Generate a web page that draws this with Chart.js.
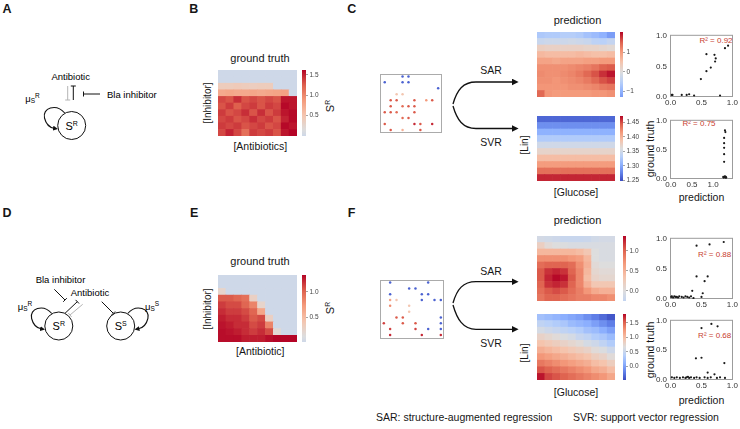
<!DOCTYPE html>
<html>
<head>
<meta charset="utf-8">
<title>SAR vs SVR</title>
<script src="https://cdn.jsdelivr.net/npm/chart.js@4.4.1/dist/chart.umd.min.js"></script>
<style>
  body { margin: 0; background: #fff; }
  #fig { position: relative; width: 740px; height: 429px; overflow: hidden;
         font-family: "Liberation Sans", Arial, Helvetica, sans-serif; color: #161616; }
  #fig canvas { position: absolute; }
  #fig svg { position: absolute; left: 0; top: 0; font-family: "Liberation Sans", Arial, sans-serif; }
  .lbl { position: absolute; white-space: nowrap; line-height: 1; transform: translate(-50%, -50%); }
  .rot { transform: translate(-50%, -50%) rotate(-90deg); }
  .left { transform: translate(0, -50%); }
  .panel { font-weight: bold; font-size: 12.5px; }
  .r2 { color: #c8402f; font-size: 8px; }
  sup { font-size: 0.62em; vertical-align: 0.55em; line-height: 0; }
</style>
</head>
<body>
<div id="fig">
  <svg width="740" height="429" viewBox="0 0 740 429">
    <defs>
      <marker id="tip" viewBox="0 0 10 10" refX="2" refY="5" markerWidth="5" markerHeight="5" markerUnits="userSpaceOnUse" orient="auto">
        <path d="M0,0 L10,5 L0,10 z" fill="#111"/>
      </marker>
      <marker id="tipBig" viewBox="0 0 10 10" refX="2" refY="5" markerWidth="7" markerHeight="7" markerUnits="userSpaceOnUse" orient="auto">
        <path d="M0,0 L10,5 L0,10 z" fill="#111"/>
      </marker>
    </defs>
    <!-- Panel A -->
    <text x="70.7" y="76.7" font-size="9.5" text-anchor="middle" dominant-baseline="central">Antibiotic</text>
    <line x1="67.7" y1="86" x2="67.7" y2="100" stroke="#b4b4b4" stroke-width="1"/>
    <line x1="65.2" y1="100" x2="70.2" y2="100" stroke="#b4b4b4" stroke-width="1"/>
    <line x1="73.3" y1="100" x2="73.3" y2="86" stroke="#111" stroke-width="1"/>
    <line x1="70.8" y1="86" x2="75.8" y2="86" stroke="#111" stroke-width="1"/>
    <line x1="83.5" y1="94" x2="100" y2="94" stroke="#111" stroke-width="1"/>
    <line x1="83.5" y1="91.5" x2="83.5" y2="96.5" stroke="#111" stroke-width="1"/>
    <text x="107" y="94" font-size="9.5" dominant-baseline="central">Bla inhibitor</text>
    <circle cx="71.7" cy="125.5" r="14" fill="none" stroke="#111" stroke-width="1"/>
    <text x="71.7" y="129.5" text-anchor="middle"><tspan font-size="11">S</tspan><tspan font-size="7" dy="-4">R</tspan></text>
    <path d="M64.7,113 C56,103 42,108 44.5,118 C46,124 50,127.5 54,128.3" fill="none" stroke="#111" stroke-width="1.1" marker-end="url(#tip)"/>
    <text x="32.5" y="102" text-anchor="middle"><tspan font-size="9.5">μ</tspan><tspan font-size="6.5" dy="1">S</tspan><tspan font-size="6.5" dy="-5">R</tspan></text>

    <!-- Panel D -->
    <text x="60.5" y="279" font-size="9.5" text-anchor="middle" dominant-baseline="central">Bla inhibitor</text>
    <line x1="54.3" y1="289.3" x2="65" y2="300" stroke="#111" stroke-width="1"/>
    <line x1="66.8" y1="298.2" x2="63.2" y2="301.8" stroke="#111" stroke-width="1"/>
    <text x="90" y="292.7" font-size="9.5" text-anchor="middle" dominant-baseline="central">Antibiotic</text>
    <line x1="65" y1="313.3" x2="77.3" y2="301.7" stroke="#111" stroke-width="1"/>
    <line x1="75.6" y1="299.9" x2="79" y2="303.5" stroke="#111" stroke-width="1"/>
    <line x1="82.7" y1="304.3" x2="70" y2="315" stroke="#b4b4b4" stroke-width="1"/>
    <line x1="68.4" y1="313.1" x2="71.6" y2="316.9" stroke="#b4b4b4" stroke-width="1"/>
    <line x1="101.7" y1="301.7" x2="113.3" y2="313.3" stroke="#111" stroke-width="1"/>
    <line x1="115.1" y1="311.5" x2="111.5" y2="315.1" stroke="#111" stroke-width="1"/>
    <circle cx="58.8" cy="326" r="14" fill="none" stroke="#111" stroke-width="1"/>
    <text x="58.8" y="330" text-anchor="middle"><tspan font-size="11">S</tspan><tspan font-size="7" dy="-4">R</tspan></text>
    <circle cx="120.7" cy="326" r="14" fill="none" stroke="#111" stroke-width="1"/>
    <text x="120.7" y="330" text-anchor="middle"><tspan font-size="11">S</tspan><tspan font-size="7" dy="-4">S</tspan></text>
    <path d="M51.8,313.5 C43.1,303.5 29.1,308.5 31.6,318.5 C33.1,324.5 37.1,328 41.1,328.8" fill="none" stroke="#111" stroke-width="1.1" marker-end="url(#tip)"/>
    <path d="M127.7,313.5 C136.4,303.5 150.4,308.5 147.9,318.5 C146.4,324.5 142.4,328 138.4,328.8" fill="none" stroke="#111" stroke-width="1.1" marker-end="url(#tip)"/>
    <text x="25" y="310" text-anchor="middle"><tspan font-size="9.5">μ</tspan><tspan font-size="6.5" dy="1">S</tspan><tspan font-size="6.5" dy="-5">R</tspan></text>
    <text x="152" y="310" text-anchor="middle"><tspan font-size="9.5">μ</tspan><tspan font-size="6.5" dy="1">S</tspan><tspan font-size="6.5" dy="-5">S</tspan></text>

    <!-- Flechas SAR / SVR -->
    <path d="M453,104 C457,90 463,82 476,82 L513,82" fill="none" stroke="#111" stroke-width="1.3" marker-end="url(#tipBig)"/>
    <path d="M453,106 C457,120 463,128.5 476,128.5 L513,128.5" fill="none" stroke="#111" stroke-width="1.3" marker-end="url(#tipBig)"/>
    <path d="M453,303 C457,289 463,281.7 476,281.7 L513,281.7" fill="none" stroke="#111" stroke-width="1.3" marker-end="url(#tipBig)"/>
    <path d="M453,305 C457,319 463,329.3 476,329.3 L513,329.3" fill="none" stroke="#111" stroke-width="1.3" marker-end="url(#tipBig)"/>
  </svg>

  <div class="lbl panel" style="left:7px;top:8.5px">A</div>
  <div class="lbl panel" style="left:193.8px;top:8.5px">B</div>
  <div class="lbl panel" style="left:351.7px;top:8.5px">C</div>
  <div class="lbl panel" style="left:7px;top:213px">D</div>
  <div class="lbl panel" style="left:194.2px;top:213px">E</div>
  <div class="lbl panel" style="left:351.7px;top:213px">F</div>

  <div class="lbl" style="left:260px;top:57.5px;font-size:11px">ground truth</div>
  <div class="lbl rot" style="left:208.3px;top:103px;font-size:10px">[Inhibitor]</div>
  <div class="lbl" style="left:260.3px;top:145.7px;font-size:10.5px">[Antibiotics]</div>
  <div class="lbl rot" style="left:329.5px;top:106px;font-size:11px">S<sup>R</sup></div>

  <div class="lbl" style="left:260px;top:261px;font-size:11px">ground truth</div>
  <div class="lbl rot" style="left:208.3px;top:309px;font-size:10px">[Inhibitor]</div>
  <div class="lbl" style="left:260.3px;top:350.7px;font-size:10.5px">[Antibiotic]</div>
  <div class="lbl rot" style="left:329.5px;top:308px;font-size:11px">S<sup>R</sup></div>

  <div class="lbl" style="left:577.5px;top:19.5px;font-size:11px">prediction</div>
  <div class="lbl" style="left:491px;top:70px;font-size:10.5px">SAR</div>
  <div class="lbl" style="left:491px;top:141.7px;font-size:10.5px">SVR</div>
  <div class="lbl rot" style="left:525px;top:145px;font-size:10px">[Lin]</div>
  <div class="lbl" style="left:576px;top:191.7px;font-size:10.5px">[Glucose]</div>
  <div class="lbl rot" style="left:650px;top:149px;font-size:10.5px">ground truth</div>
  <div class="lbl" style="left:701.5px;top:197px;font-size:10.5px">prediction</div>
  <div class="lbl r2" style="left:716px;top:40.7px">R² = 0.92</div>
  <div class="lbl r2" style="left:699px;top:124px">R² = 0.75</div>

  <div class="lbl" style="left:577.5px;top:220px;font-size:11px">prediction</div>
  <div class="lbl" style="left:491px;top:271px;font-size:10.5px">SAR</div>
  <div class="lbl" style="left:491px;top:342.7px;font-size:10.5px">SVR</div>
  <div class="lbl rot" style="left:525px;top:353px;font-size:10px">[Lin]</div>
  <div class="lbl" style="left:576px;top:392px;font-size:10.5px">[Glucose]</div>
  <div class="lbl rot" style="left:650px;top:350px;font-size:10.5px">ground truth</div>
  <div class="lbl" style="left:701.5px;top:400px;font-size:10.5px">prediction</div>
  <div class="lbl r2" style="left:714.7px;top:255px">R² = 0.88</div>
  <div class="lbl r2" style="left:714.7px;top:336px">R² = 0.68</div>

  <div class="lbl left" style="left:376px;top:416.7px;font-size:10.5px">SAR: structure-augmented regression</div>
  <div class="lbl left" style="left:573px;top:416.7px;font-size:10.5px">SVR: support vector regression</div>
</div>

<script>
// Índices de concentración (rejilla 10 x 10)
const concIdx = [0, 1, 2, 3, 4, 5, 6, 7, 8, 9];

// Panel B: ground truth S^R (fila 0 = arriba)
const truthB = [
  [0, 0, 0, 0, 0, 0, 0, 0, 0, 0],
  [0, 0, 0, 0, 0, 0, 0, 0, 0, 0],
  [0.4, 0.4, 0.42, 0.4, 0.38, 0.4, 0.4, 0, 0, 0],
  [0.75, 0.78, 0.75, 0.75, 0.78, 0.75, 0.78, 0.8, 0.82, 0],
  [1.35, 1.3, 1.45, 1.3, 1.35, 1.3, 1.35, 1.3, 1.55, 1.55],
  [1.3, 1.4, 1.25, 1.35, 1.4, 1.3, 1.4, 1.35, 1.6, 1.55],
  [1.4, 1.3, 1.35, 1.45, 1.3, 1.45, 1.3, 1.4, 1.55, 1.6],
  [1.35, 1.4, 1.3, 1.35, 1.45, 1.35, 1.4, 1.3, 1.5, 1.6],
  [1.4, 1.35, 1.4, 1.3, 1.35, 1.4, 1.3, 1.35, 1.6, 1.55],
  [1.35, 1.5, 1.35, 1.15, 1.4, 1.35, 1.4, 1.3, 1.55, 1.62]
];

// Panel E: ground truth S^R
const truthE = [
  [0, 0, 0, 0, 0, 0, 0, 0, 0, 0],
  [0, 0, 0, 0, 0, 0, 0, 0, 0, 0],
  [0.25, 0, 0, 0, 0, 0, 0, 0, 0, 0],
  [1.05, 1.05, 1.0, 0.95, 0.3, 0, 0, 0, 0, 0],
  [1.15, 1.1, 1.1, 1.0, 0.85, 0.25, 0, 0, 0, 0],
  [1.2, 1.15, 1.15, 1.1, 1.0, 0.65, 0, 0, 0, 0],
  [1.25, 1.2, 1.2, 1.15, 1.05, 1.1, 0.3, 0, 0, 0],
  [1.28, 1.25, 1.2, 1.2, 1.1, 1.15, 0.85, 0, 0, 0],
  [1.3, 1.28, 1.25, 1.2, 1.15, 1.2, 1.1, 0.2, 0, 0],
  [1.3, 1.3, 1.3, 1.25, 1.25, 1.25, 1.3, 1.33, 1.33, 1.33]
];

// Panel C: predicciones
const sarC = [
  [-0.65, -0.6, -0.6, -0.55, -0.55, -0.6, -0.75, -0.85, -1.0, -1.25],
  [-0.3, -0.25, -0.25, -0.25, -0.2, -0.25, -0.3, -0.45, -0.5, -0.35],
  [0.3, 0.25, 0.25, 0.25, 0.25, 0.25, 0.2, 0.2, 0.15, 0.1],
  [0.65, 0.6, 0.6, 0.6, 0.6, 0.65, 0.6, 0.55, 0.55, 0.6],
  [0.9, 0.9, 0.85, 0.9, 0.9, 0.9, 0.95, 0.95, 1.0, 1.0],
  [1.1, 1.1, 1.1, 1.1, 1.15, 1.2, 1.25, 1.35, 1.5, 1.55],
  [1.15, 1.1, 1.1, 1.15, 1.2, 1.3, 1.45, 1.6, 1.8, 1.95],
  [1.1, 1.1, 1.05, 1.1, 1.15, 1.2, 1.3, 1.45, 1.6, 1.7],
  [1.05, 1.05, 1.05, 1.05, 1.1, 1.1, 1.15, 1.2, 1.3, 1.35],
  [1.45, 1.05, 1.0, 1.0, 1.0, 1.0, 1.0, 1.05, 1.05, 1.1]
];
const svrC = [
  [1.261, 1.261, 1.261, 1.261, 1.261, 1.261, 1.261, 1.261, 1.261, 1.261],
  [1.283, 1.283, 1.283, 1.283, 1.283, 1.283, 1.283, 1.283, 1.283, 1.283],
  [1.305, 1.305, 1.305, 1.305, 1.305, 1.305, 1.305, 1.305, 1.305, 1.305],
  [1.327, 1.327, 1.327, 1.327, 1.327, 1.327, 1.327, 1.327, 1.327, 1.327],
  [1.349, 1.349, 1.349, 1.349, 1.349, 1.349, 1.349, 1.349, 1.349, 1.349],
  [1.371, 1.371, 1.371, 1.371, 1.371, 1.371, 1.371, 1.371, 1.371, 1.371],
  [1.393, 1.393, 1.393, 1.393, 1.393, 1.393, 1.393, 1.393, 1.393, 1.393],
  [1.415, 1.415, 1.415, 1.415, 1.415, 1.415, 1.415, 1.415, 1.415, 1.415],
  [1.437, 1.437, 1.437, 1.437, 1.437, 1.437, 1.437, 1.437, 1.437, 1.437],
  [1.463, 1.463, 1.463, 1.463, 1.463, 1.463, 1.463, 1.463, 1.463, 1.463]
];

// Panel F: predicciones
const sarF = [
  [-0.1, -0.12, -0.15, -0.2, -0.2, -0.2, -0.18, -0.12, -0.1, -0.1],
  [0.2, 0.05, 0.0, -0.02, -0.05, -0.05, -0.05, -0.05, -0.05, -0.05],
  [0.45, 0.45, 0.45, 0.45, 0.45, 0.4, 0.3, 0.0, -0.05, -0.05],
  [0.75, 0.75, 0.75, 0.75, 0.7, 0.65, 0.45, 0.0, -0.05, -0.05],
  [0.95, 1.0, 1.0, 1.0, 0.95, 0.75, 0.5, 0.05, 0.0, 0.0],
  [1.05, 1.2, 1.25, 1.2, 1.0, 0.8, 0.45, 0.1, 0.05, 0.05],
  [1.05, 1.25, 1.35, 1.3, 1.05, 0.8, 0.4, 0.15, 0.1, 0.1],
  [1.0, 1.2, 1.25, 1.2, 1.0, 0.8, 0.5, 0.3, 0.3, 0.3],
  [0.95, 1.05, 1.1, 1.05, 0.95, 0.85, 0.7, 0.55, 0.5, 0.5],
  [0.9, 1.0, 1.0, 0.95, 0.9, 0.85, 0.85, 0.8, 0.8, 0.75]
];
const svrF = [
  [0.25, 0.2, 0.15, 0.1, 0.05, 0.0, -0.1, -0.2, -0.3, -0.4],
  [0.45, 0.4, 0.35, 0.3, 0.2, 0.15, 0.1, 0.0, -0.1, -0.2],
  [0.6, 0.55, 0.5, 0.45, 0.4, 0.35, 0.25, 0.2, 0.1, 0.0],
  [0.8, 0.75, 0.7, 0.65, 0.6, 0.5, 0.45, 0.35, 0.3, 0.2],
  [0.95, 0.9, 0.85, 0.8, 0.75, 0.7, 0.6, 0.55, 0.45, 0.35],
  [1.1, 1.05, 1.0, 0.95, 0.9, 0.85, 0.8, 0.7, 0.65, 0.55],
  [1.25, 1.2, 1.15, 1.1, 1.05, 1.0, 0.95, 0.85, 0.8, 0.7],
  [1.4, 1.35, 1.3, 1.25, 1.2, 1.15, 1.1, 1.0, 0.95, 0.85],
  [1.55, 1.5, 1.45, 1.4, 1.35, 1.3, 1.25, 1.15, 1.1, 1.0],
  [1.75, 1.6, 1.55, 1.5, 1.45, 1.4, 1.35, 1.3, 1.25, 1.15]
];

// Muestras de entrenamiento (columna = [Antibiotic], fila contada desde arriba)
const sampleColC = [3, 4, 0, 3, 4, 9, 2, 3, 1, 2, 5, 7, 8, 1, 3, 4, 5, 0, 1, 2, 5, 3, 4, 0, 5, 6, 8, 1, 3, 6];
const sampleRowC = [0, 0, 1, 1, 1, 2, 3, 3, 4, 4, 4, 4, 4, 5, 5, 5, 5, 6, 6, 6, 6, 7, 7, 8, 8, 8, 8, 9, 9, 9];
const sampleValC = [0, 0, 0, 0, 0, 0, 0.85, 0.85, 1.25, 1.25, 1.25, 1.05, 1.25, 1.25, 1.2, 1.25, 1.25,
                    1.25, 1.25, 1.2, 1.25, 1.2, 1.25, 1.25, 1.35, 1.25, 1.35, 1.25, 0.95, 1.25];

const sampleColF = [1, 7, 4, 5, 1, 6, 7, 1, 2, 6, 8, 9, 1, 4, 4, 2, 3, 9, 0, 3, 5, 9, 1, 5, 7, 9, 1, 6, 9];
const sampleRowF = [0, 0, 1, 1, 2, 2, 2, 3, 3, 3, 3, 3, 4, 4, 5, 6, 6, 6, 7, 7, 7, 7, 8, 8, 8, 8, 9, 9, 9];
const sampleValF = [0, 0, 0, 0, 0, 0, 0, 1.0, 0.85, 0, 0, 0, 1.1, 0.85, 0.85, 1.25, 1.25, 0,
                    1.3, 1.25, 1.25, 0, 1.3, 1.3, 0, 0, 1.35, 1.35, 1.35];

// Predicción vs ground truth
const predSarCx = [0.02, 0.03, 0.18, 0.26, 0.30, 0.38, 0.80, 0.49, 0.58, 0.58, 0.65, 0.71, 0.73, 0.72, 0.88, 0.93];
const predSarCy = [0.03, 0.03, 0.03, 0.03, 0.04, 0.02, 0.02, 0.29, 0.42, 0.70, 0.48, 0.69, 0.63, 0.58, 0.80, 0.84];
const predSvrCx = [1.28, 1.29, 1.26, 1.26, 1.26, 1.26, 1.26, 1.28, 1.24, 1.25, 1.27, 1.29, 1.30, 1.31];
const predSvrCy = [0.83, 0.80, 0.70, 0.61, 0.53, 0.42, 0.29, 0.04, 0.03, 0.02, 0.03, 0.02, 0.03, 0.02];
const predSarFx = [0.42, 0.63, 0.86, 0.42, 0.55, 0.60, 0.35, 0.52, 0.50, 0.01, 0.02, 0.04, 0.06, 0.08, 0.10,
                   0.12, 0.14, 0.18, 0.21, 0.24, 0.27, 0.30, 0.33, 0.37];
const predSarFy = [0.88, 0.90, 0.94, 0.37, 0.29, 0.37, 0.13, 0.09, 0.03, 0.03, 0.04, 0.02, 0.04, 0.03, 0.03,
                   0.02, 0.04, 0.03, 0.02, 0.04, 0.03, 0.02, 0.04, 0.01];
const predSvrFx = [0.50, 0.66, 0.76, 0.41, 0.50, 0.87, 0.60, 0.71, 0.02, 0.06, 0.10, 0.15, 0.20, 0.24, 0.26,
                   0.28, 0.30, 0.33, 0.38, 0.42, 0.47, 0.55, 0.60, 0.65, 0.75, 0.80, 0.88];
const predSvrFy = [0.87, 0.94, 0.90, 0.36, 0.37, 0.28, 0.12, 0.09, 0.04, 0.03, 0.04, 0.03, 0.04, 0.03, 0.04,
                   0.05, 0.03, 0.04, 0.03, 0.04, 0.03, 0.04, 0.03, 0.04, 0.03, 0.04, 0.03];

// Ticks de ejes y barras de color
const ticksB = [0.5, 1.0, 1.5];
const ticksE = [0.5, 1.0];
const ticksSarC = [-1, 0, 1];
const ticksSvrC = [1.25, 1.30, 1.35, 1.40, 1.45];
const ticksSarF = [0, 0.5, 1.0];
const ticksSvrF = [0, 0.5, 1.0, 1.5];
const ticksPred = [0, 0.5, 1.0];

// ---------- mapa de color coolwarm ----------
const coolwarm = [
  [0.0, 59, 76, 192], [0.125, 98, 130, 234], [0.25, 141, 176, 254], [0.375, 184, 208, 249],
  [0.5, 221, 221, 221], [0.625, 245, 196, 173], [0.75, 244, 154, 123], [0.875, 222, 96, 77], [1.0, 180, 4, 38]
];
function coolwarmAt(t) {
  t = Math.min(1, Math.max(0, t));
  for (let i = 1; i < coolwarm.length; i++) {
    if (t <= coolwarm[i][0]) {
      const a = coolwarm[i - 1], b = coolwarm[i];
      const f = (t - a[0]) / (b[0] - a[0]);
      const c = [1, 2, 3].map(k => Math.round(a[k] + f * (b[k] - a[k])));
      return `rgb(${c[0]},${c[1]},${c[2]})`;
    }
  }
  return 'rgb(180,4,38)';
}
function cmapColor(sc, v) {
  const f = Math.min(1, Math.max(0, (v - sc.vmin) / (sc.vmax - sc.vmin)));
  return coolwarmAt(sc.t0 + f * (sc.t1 - sc.t0));
}

// Escalas de color (rango de la barra y trozo del mapa)
const scaleB = { vmin: 0, vmax: 1.62, t0: 0.45, t1: 1 };
const scaleE = { vmin: 0.02, vmax: 1.33, t0: 0.45, t1: 1 };
const scaleSarC = { vmin: -1.28, vmax: 2.04, t0: 0.19, t1: 1 };
const scaleSvrC = { vmin: 1.247, vmax: 1.473, t0: 0, t1: 1 };
const scaleSarF = { vmin: -0.25, vmax: 1.37, t0: 0.41, t1: 1 };
const scaleSvrF = { vmin: -0.46, vmax: 1.8, t0: 0, t1: 1 };
const scaleSample = { vmin: 0, vmax: 1.35, t0: 0.05, t1: 0.95 };

// ---------- utilidades ----------
Chart.defaults.font.family = '"Liberation Sans", Arial, sans-serif';
const fig = document.getElementById('fig');

// Marco gris alrededor del área del gráfico
Chart.register({
  id: 'frame',
  beforeDatasetsDraw(chart, args, opts) {
    if (!opts.color) return;
    const { ctx, chartArea: a } = chart;
    ctx.save();
    ctx.strokeStyle = opts.color;
    ctx.lineWidth = 1;
    ctx.strokeRect(a.left + 0.5, a.top + 0.5, a.width - 1, a.height - 1);
    ctx.restore();
  }
});

function addCanvas(x, y, w, h) {
  const cv = document.createElement('canvas');
  cv.width = w; cv.height = h;
  cv.style.left = x + 'px'; cv.style.top = y + 'px';
  cv.style.width = w + 'px'; cv.style.height = h + 'px';
  fig.appendChild(cv);
  return cv;
}

function baseOptions() {
  return {
    responsive: false, animation: false, devicePixelRatio: 1, events: [],
    plugins: { legend: { display: false }, tooltip: { enabled: false } },
    layout: { padding: 0 }
  };
}

// Mapa de calor: barras apiladas, una serie por fila
function heatmap(box, grid, sc) {
  const cv = addCanvas(box.x, box.y, box.w, box.h);
  const datasets = [];
  for (let r = grid.length - 1; r >= 0; r--) {
    datasets.push({
      data: grid[r].map(() => 1),
      backgroundColor: grid[r].map(v => cmapColor(sc, v)),
      borderWidth: 0, barPercentage: 1, categoryPercentage: 1
    });
  }
  const opts = baseOptions();
  opts.scales = {
    x: { display: false, stacked: true },
    y: { display: false, stacked: true, min: 0, max: grid.length }
  };
  return new Chart(cv, { type: 'bar', data: { labels: concIdx, datasets }, options: opts });
}

function barGradient(chart, sc) {
  const a = chart.chartArea;
  if (!a) return '#ccc';
  const g = chart.ctx.createLinearGradient(0, a.bottom, 0, a.top);
  for (let i = 0; i <= 24; i++) {
    const f = i / 24;
    g.addColorStop(f, cmapColor(sc, sc.vmin + f * (sc.vmax - sc.vmin)));
  }
  return g;
}

// Barra de color: una barra flotante [vmin, vmax] con degradado
function colorbar(box, sc, ticks, fmt) {
  const pad = 6, axisW = 24;
  const cv = addCanvas(box.x, box.y - pad, box.w + axisW, box.h + 2 * pad);
  const opts = baseOptions();
  opts.layout = { padding: { top: pad, bottom: pad, left: 0, right: 0 } };
  opts.scales = {
    x: { display: false },
    y: {
      position: 'right', min: sc.vmin, max: sc.vmax,
      afterFit: s => { s.width = axisW; },
      afterBuildTicks: s => { s.ticks = ticks.map(v => ({ value: v })); },
      grid: { drawOnChartArea: false, drawTicks: true, tickLength: 2, color: '#666', lineWidth: 0.6 },
      border: { display: false },
      ticks: { font: { size: 6.5 }, color: '#444', padding: 1.5, callback: fmt }
    }
  };
  return new Chart(cv, {
    type: 'bar',
    data: { labels: [''], datasets: [{
      data: [[sc.vmin, sc.vmax]],
      backgroundColor: c => barGradient(c.chart, sc),
      borderWidth: 0, barPercentage: 1, categoryPercentage: 1
    }] },
    options: opts
  });
}

// Muestras de entrenamiento sobre la rejilla
function samplePlot(box, cols, rows, vals, xr, yr) {
  const cv = addCanvas(box.x, box.y, box.w, box.h);
  const opts = baseOptions();
  opts.plugins.frame = { color: '#ababab' };
  opts.scales = {
    x: { display: false, min: xr[0], max: xr[1] },
    y: { display: false, reverse: true, min: yr[0], max: yr[1] }
  };
  return new Chart(cv, {
    type: 'scatter',
    data: { datasets: [{
      data: cols.map((c, i) => ({ x: c, y: rows[i] })),
      pointBackgroundColor: vals.map(v => cmapColor(scaleSample, v)),
      pointBorderWidth: 0, pointRadius: 1.25
    }] },
    options: opts
  });
}

// Predicción (x) frente a ground truth (y)
function predPlot(box, xs, ys, xr, yr) {
  const padT = 6, padR = 8, yW = 18, xH = 12;
  const cv = addCanvas(box.x - yW, box.y - padT, box.w + yW + padR, box.h + padT + xH);
  const opts = baseOptions();
  opts.layout = { padding: { top: padT, right: padR, left: 0, bottom: 0 } };
  opts.plugins.frame = { color: '#9c9c9c' };
  const tickCfg = { font: { size: 8 }, color: '#333', maxRotation: 0, callback: v => v.toFixed(1) };
  opts.scales = {
    x: {
      min: xr[0], max: xr[1],
      afterFit: s => { s.height = xH; },
      afterBuildTicks: s => { s.ticks = ticksPred.map(v => ({ value: v })); },
      grid: { display: false, drawTicks: false, tickLength: 0 }, border: { display: false },
      ticks: Object.assign({ padding: 1 }, tickCfg)
    },
    y: {
      min: yr[0], max: yr[1],
      afterFit: s => { s.width = yW; },
      afterBuildTicks: s => { s.ticks = ticksPred.map(v => ({ value: v })); },
      grid: { display: false, drawTicks: false, tickLength: 0 }, border: { display: false },
      ticks: Object.assign({ padding: 3 }, tickCfg)
    }
  };
  return new Chart(cv, {
    type: 'scatter',
    data: { datasets: [{
      data: xs.map((x, i) => ({ x, y: ys[i] })),
      pointBackgroundColor: '#1a1a1a', pointBorderWidth: 0, pointRadius: 1.1
    }] },
    options: opts
  });
}

const fmt1 = v => v.toFixed(1);
const fmt2 = v => v.toFixed(2);
const fmtInt = v => (v < 0 ? '\u2212' + Math.abs(v) : String(v));

// ---------- fila superior (B, C) ----------
heatmap({ x: 218, y: 70, w: 79, h: 66 }, truthB, scaleB);
colorbar({ x: 302, y: 70, w: 4, h: 66 }, scaleB, ticksB, fmt1);
samplePlot({ x: 376, y: 70, w: 70, h: 67 }, sampleColC, sampleRowC, sampleValC, [-0.8, 9.65], [-0.4, 9.5]);
heatmap({ x: 537, y: 32, w: 78, h: 65 }, sarC, scaleSarC);
colorbar({ x: 620, y: 32, w: 3, h: 65 }, scaleSarC, ticksSarC, fmtInt);
heatmap({ x: 537, y: 116, w: 78, h: 65 }, svrC, scaleSvrC);
colorbar({ x: 620, y: 116, w: 3, h: 65 }, scaleSvrC, ticksSvrC, fmt2);
predPlot({ x: 670, y: 33, w: 63, h: 64 }, predSarCx, predSarCy, [-0.01, 1.01], [-0.005, 1.02]);
predPlot({ x: 670, y: 118, w: 63, h: 61 }, predSvrCx, predSvrCy, [-0.02, 1.47], [-0.005, 1.01]);

// ---------- fila inferior (E, F) ----------
heatmap({ x: 218, y: 275, w: 79, h: 67 }, truthE, scaleE);
colorbar({ x: 302, y: 275, w: 4, h: 67 }, scaleE, ticksE, fmt1);
samplePlot({ x: 376, y: 276, w: 72, h: 67 }, sampleColF, sampleRowF, sampleValF, [-0.6, 9.5], [-0.45, 9.7]);
heatmap({ x: 537, y: 236, w: 78, h: 65 }, sarF, scaleSarF);
colorbar({ x: 623, y: 236, w: 3, h: 65 }, scaleSarF, ticksSarF, fmt1);
heatmap({ x: 537, y: 314, w: 78, h: 66 }, svrF, scaleSvrF);
colorbar({ x: 623, y: 314, w: 3, h: 66 }, scaleSvrF, ticksSvrF, fmt1);
predPlot({ x: 670, y: 236, w: 63, h: 63 }, predSarFx, predSarFy, [-0.01, 1.01], [-0.005, 1.01]);
predPlot({ x: 670, y: 318, w: 63, h: 62 }, predSvrFx, predSvrFy, [-0.01, 1.01], [-0.005, 1.01]);
</script>
</body>
</html>
